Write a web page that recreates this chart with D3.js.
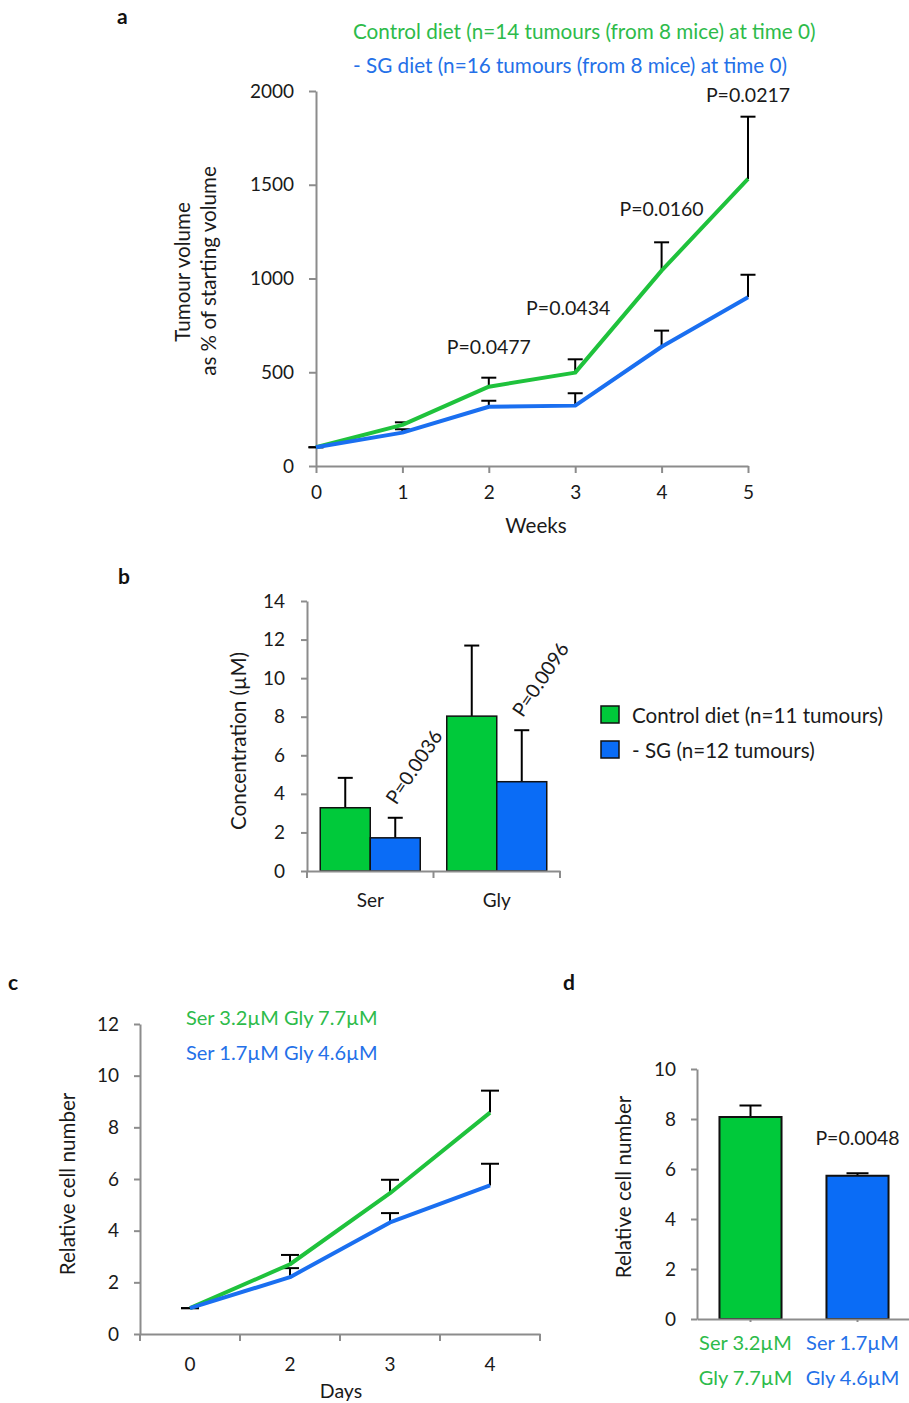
<!DOCTYPE html>
<html>
<head>
<meta charset="utf-8">
<script src="https://cdn.jsdelivr.net/npm/d3@7"></script>
<style>
  body { margin: 0; background: #fff; }
  svg { display: block; font-family: Lato, "Open Sans", sans-serif; }
  .axis path, .axis line { stroke: #8c8c8c; stroke-width: 2; }
  .axis text { fill: #1a1a1a; font-size: 19px; font-family: Lato, sans-serif; }
</style>
</head>
<body>
<script>
// ---------------- DATA ----------------
// Panel a
const weeks = [0, 1, 2, 3, 4, 5];
const ctrlVol = [100, 219, 423, 498, 1042, 1531];
const ctrlVolErr = [0, 14, 48, 71, 151, 332];
const sgVol = [100, 178, 316, 322, 636, 900];
const sgVolErr = [0, 18, 32, 66, 86, 120];
const volTicks = [0, 500, 1000, 1500, 2000];
const pWeeks = [2, 3, 4, 5];
const pLabelsA = ["P=0.0477", "P=0.0434", "P=0.0160", "P=0.0217"];
const pLabelYA = [635, 843, 1376, 1979];
const legendA = ["Control diet (n=14 tumours (from 8 mice) at time 0)",
                 "- SG diet (n=16 tumours (from 8 mice) at time 0)"];

// Panel b
const amino = ["Ser", "Gly"];
const ctrlConc = [3.28, 8.03];
const ctrlConcErr = [1.55, 3.66];
const sgConc = [1.72, 4.63];
const sgConcErr = [1.04, 2.67];
const concTicks = [0, 2, 4, 6, 8, 10, 12, 14];
const pLabelsB = ["P=0.0036", "P=0.0096"];
const legendB = ["Control diet (n=11 tumours)", "- SG (n=12 tumours)"];

// Panel c
const days = ["0", "2", "3", "4"];
const ctrlCells = [1, 2.7, 5.45, 8.57];
const ctrlCellsErr = [0, 0.36, 0.52, 0.85];
const sgCells = [1, 2.2, 4.32, 5.75];
const sgCellsErr = [0, 0.35, 0.36, 0.84];
const cellTicksC = [0, 2, 4, 6, 8, 10, 12];
const legendC = ["Ser 3.2µM Gly 7.7µM", "Ser 1.7µM Gly 4.6µM"];

// Panel d
const conditions = ["ctrl", "sg"];
const condLabels = [["Ser 3.2µM", "Gly 7.7µM"], ["Ser 1.7µM", "Gly 4.6µM"]];
const cellsD = [8.08, 5.73];
const cellsDErr = [0.46, 0.10];
const cellTicksD = [0, 2, 4, 6, 8, 10];
const pLabelD = "P=0.0048";

// ---------------- STYLE ----------------
const GREEN_LINE = "#1fc23c", BLUE_LINE = "#1a6ff0";
const GREEN_BAR = "#00c93a", BLUE_BAR = "#0a6cf6";
const GREEN_TXT = "#2dbb4a", BLUE_TXT = "#2470e8";
const TITLE_FS = 20.6, P_FS = 19.5;

const svg = d3.select("body").append("svg").attr("width", 909).attr("height", 1403);

function panelLetter(t, x, y) {
  svg.append("text").attr("x", x).attr("y", y).text(t)
    .attr("font-size", 21).attr("font-weight", "bold").attr("fill", "#111");
}
function errBar(g, x, yVal, yTop, capW) {
  g.append("line").attr("x1", x).attr("x2", x).attr("y1", yVal).attr("y2", yTop)
    .attr("stroke", "#000").attr("stroke-width", 2);
  g.append("line").attr("x1", x - capW / 2).attr("x2", x + capW / 2).attr("y1", yTop).attr("y2", yTop)
    .attr("stroke", "#000").attr("stroke-width", 2);
}
function yLabel(text, cx, cy, size) {
  svg.append("text").attr("transform", `translate(${cx},${cy}) rotate(-90)`)
    .attr("text-anchor", "middle").attr("dominant-baseline", "central")
    .attr("font-size", size || TITLE_FS).attr("fill", "#1a1a1a").text(text);
}
const fmt = d3.format("d");

// ================= PANEL A =================
panelLetter("a", 117, 24);
{
  const x = d3.scaleLinear().domain([0, 5]).range([316, 748]);
  const y = d3.scaleLinear().domain([0, 2000]).range([466, 91]);
  const g = svg.append("g");

  g.append("g").attr("class", "axis").attr("transform", "translate(316,0)")
    .call(d3.axisLeft(y).tickValues(volTicks).tickSize(7).tickSizeOuter(0).tickPadding(15).tickFormat(fmt));
  g.append("g").attr("class", "axis").attr("transform", "translate(0,466)")
    .call(d3.axisBottom(x).tickValues(weeks).tickSize(7).tickSizeOuter(0).tickPadding(13).tickFormat(fmt));

  const eb = g.append("g");
  weeks.forEach((w, i) => {
    errBar(eb, x(w), y(ctrlVol[i]), y(ctrlVol[i] + ctrlVolErr[i]), 15);
    errBar(eb, x(w), y(sgVol[i]), y(sgVol[i] + sgVolErr[i]), 15);
  });

  const line = d3.line().x((d, i) => x(weeks[i])).y(d => y(d));
  g.append("path").datum(ctrlVol).attr("d", line).attr("fill", "none")
    .attr("stroke", GREEN_LINE).attr("stroke-width", 4).attr("stroke-linejoin", "round");
  g.append("path").datum(sgVol).attr("d", line).attr("fill", "none")
    .attr("stroke", BLUE_LINE).attr("stroke-width", 4).attr("stroke-linejoin", "round");

  pWeeks.forEach((w, i) => {
    g.append("text").attr("x", x(w) + (w === 3 ? -7 : 0)).attr("y", y(pLabelYA[i]))
      .attr("text-anchor", "middle").attr("dominant-baseline", "central")
      .attr("font-size", P_FS).attr("fill", "#1a1a1a").text(pLabelsA[i]);
  });

  g.append("text").attr("x", 353).attr("y", 31).attr("dominant-baseline", "central")
    .attr("font-size", 20.7).attr("fill", GREEN_TXT).text(legendA[0]);
  g.append("text").attr("x", 353).attr("y", 65).attr("dominant-baseline", "central")
    .attr("font-size", 20.7).attr("fill", BLUE_TXT).text(legendA[1]);

  g.append("text").attr("x", 536).attr("y", 525).attr("text-anchor", "middle")
    .attr("dominant-baseline", "central").attr("font-size", TITLE_FS).attr("fill", "#1a1a1a").text("Weeks");
  yLabel("Tumour volume", 182, 272);
  yLabel("as % of starting volume", 208, 271);
}

// ================= PANEL B =================
panelLetter("b", 118, 584);
{
  const x = d3.scaleBand().domain(amino).range([307, 560]);
  const xs = d3.scaleBand().domain(["ctrl", "sg"]).range([0, x.bandwidth()]).paddingOuter(0.265);
  const y = d3.scaleLinear().domain([0, 14]).range([871, 601]);
  const g = svg.append("g");

  const bars = [
    { key: "ctrl", vals: ctrlConc, errs: ctrlConcErr, fill: GREEN_BAR },
    { key: "sg", vals: sgConc, errs: sgConcErr, fill: BLUE_BAR }
  ];
  bars.forEach(s => {
    amino.forEach((a, i) => {
      const bx = x(a) + xs(s.key);
      const cx = bx + xs.bandwidth() / 2;
      errBar(g, cx, y(s.vals[i]), y(s.vals[i] + s.errs[i]), 15);
      g.append("rect").attr("x", bx).attr("y", y(s.vals[i])).attr("width", xs.bandwidth())
        .attr("height", y(0) - y(s.vals[i])).attr("fill", s.fill)
        .attr("stroke", "#111").attr("stroke-width", 1.5);
    });
  });

  g.append("g").attr("class", "axis").attr("transform", "translate(307,0)")
    .call(d3.axisLeft(y).tickValues(concTicks).tickSize(6).tickSizeOuter(0).tickPadding(16).tickFormat(fmt));
  const xa = g.append("g").attr("class", "axis").attr("transform", "translate(0,871)")
    .call(d3.axisBottom(x).tickSize(0).tickSizeOuter(0).tickPadding(23));
  xa.selectAll("text").attr("font-size", TITLE_FS);
  const bounds = amino.map(a => x(a)).concat([x(amino[amino.length - 1]) + x.bandwidth()]);
  bounds.forEach(bx => {
    xa.append("line").attr("x1", bx).attr("x2", bx).attr("y1", 0).attr("y2", 7);
  });
  xa.selectAll("line").attr("stroke", "#8c8c8c").attr("stroke-width", 2);

  amino.forEach((a, i) => {
    const cx = x(a) + xs("sg") + xs.bandwidth() / 2;
    const ty = y(sgConc[i] + sgConcErr[i]);
    g.append("text").attr("transform", `translate(${cx + 1},${ty - 12}) rotate(-56)`)
      .attr("font-size", P_FS).attr("fill", "#1a1a1a").text(pLabelsB[i]);
  });

  yLabel("Concentration (µM)", 238, 741);

  [GREEN_BAR, BLUE_BAR].forEach((c, i) => {
    g.append("rect").attr("x", 601).attr("y", 706 + i * 35).attr("width", 18).attr("height", 17)
      .attr("fill", c).attr("stroke", "#111").attr("stroke-width", 1.5);
    g.append("text").attr("x", 632).attr("y", 715 + i * 35).attr("dominant-baseline", "central")
      .attr("font-size", TITLE_FS).attr("fill", "#1a1a1a").text(legendB[i]);
  });
}

// ================= PANEL C =================
panelLetter("c", 8, 990);
{
  const x = d3.scaleBand().domain(days).range([140, 540]);
  const y = d3.scaleLinear().domain([0, 12]).range([1334, 1024]);
  const g = svg.append("g");

  g.append("g").attr("class", "axis").attr("transform", "translate(140,0)")
    .call(d3.axisLeft(y).tickValues(cellTicksC).tickSize(6).tickSizeOuter(0).tickPadding(15).tickFormat(fmt));
  const xa = g.append("g").attr("class", "axis").attr("transform", "translate(0,1334)")
    .call(d3.axisBottom(x).tickSize(0).tickSizeOuter(0).tickPadding(24));
  const bounds = days.map(d => x(d)).concat([x(days[days.length - 1]) + x.bandwidth()]);
  bounds.forEach(bx => {
    xa.append("line").attr("x1", bx).attr("x2", bx).attr("y1", 0).attr("y2", 7);
  });
  xa.selectAll("line").attr("stroke", "#8c8c8c").attr("stroke-width", 2);

  const cx = d => x(d) + x.bandwidth() / 2;
  const eb = g.append("g");
  days.forEach((d, i) => {
    errBar(eb, cx(d), y(ctrlCells[i]), y(ctrlCells[i] + ctrlCellsErr[i]), 18);
    errBar(eb, cx(d), y(sgCells[i]), y(sgCells[i] + sgCellsErr[i]), 18);
  });
  const line = d3.line().x((v, i) => cx(days[i])).y(v => y(v));
  g.append("path").datum(ctrlCells).attr("d", line).attr("fill", "none")
    .attr("stroke", GREEN_LINE).attr("stroke-width", 4).attr("stroke-linejoin", "round");
  g.append("path").datum(sgCells).attr("d", line).attr("fill", "none")
    .attr("stroke", BLUE_LINE).attr("stroke-width", 4).attr("stroke-linejoin", "round");

  g.append("text").attr("x", 186).attr("y", 1017).attr("dominant-baseline", "central")
    .attr("font-size", 20).attr("fill", GREEN_TXT).text(legendC[0]);
  g.append("text").attr("x", 186).attr("y", 1052).attr("dominant-baseline", "central")
    .attr("font-size", 20).attr("fill", BLUE_TXT).text(legendC[1]);

  g.append("text").attr("x", 341).attr("y", 1390).attr("text-anchor", "middle")
    .attr("dominant-baseline", "central").attr("font-size", 19.5).attr("fill", "#1a1a1a").text("Days");
  yLabel("Relative cell number", 67, 1184);
}

// ================= PANEL D =================
panelLetter("d", 563, 990);
{
  const x = d3.scaleBand().domain(conditions).range([697, 911]);
  const y = d3.scaleLinear().domain([0, 10]).range([1319, 1069]);
  const g = svg.append("g");
  const bw = x.bandwidth() * 0.58;
  const fills = [GREEN_BAR, BLUE_BAR];
  const txt = [GREEN_TXT, BLUE_TXT];

  conditions.forEach((c, i) => {
    const cx = x(c) + x.bandwidth() / 2;
    errBar(g, cx, y(cellsD[i]), y(cellsD[i] + cellsDErr[i]), 22);
    g.append("rect").attr("x", cx - bw / 2).attr("y", y(cellsD[i])).attr("width", bw)
      .attr("height", y(0) - y(cellsD[i])).attr("fill", fills[i])
      .attr("stroke", "#111").attr("stroke-width", 2);
  });

  g.append("g").attr("class", "axis").attr("transform", "translate(697,0)")
    .call(d3.axisLeft(y).tickValues(cellTicksD).tickSize(6).tickSizeOuter(0).tickPadding(15).tickFormat(fmt));
  const xa = g.append("g").attr("class", "axis").attr("transform", "translate(0,1319)")
    .call(d3.axisBottom(x).tickSize(3).tickSizeOuter(0).tickFormat(""));
  xa.selectAll(".tick line").attr("stroke", "#bbb").attr("stroke-width", 1);

  conditions.forEach((c, i) => {
    const cx = x(c) + x.bandwidth() / 2 - 5;
    condLabels[i].forEach((t, j) => {
      g.append("text").attr("x", cx).attr("y", 1342 + j * 35).attr("text-anchor", "middle")
        .attr("dominant-baseline", "central").attr("font-size", 20).attr("fill", txt[i]).text(t);
    });
  });

  g.append("text").attr("x", x("sg") + x.bandwidth() / 2).attr("y", 1137).attr("text-anchor", "middle")
    .attr("dominant-baseline", "central").attr("font-size", P_FS).attr("fill", "#1a1a1a").text(pLabelD);

  yLabel("Relative cell number", 623, 1187);
}
</script>
</body>
</html>
